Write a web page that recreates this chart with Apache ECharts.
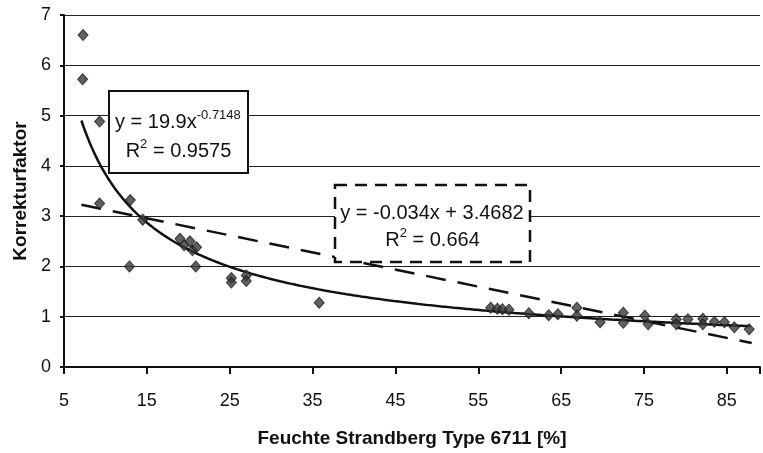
<!DOCTYPE html>
<html>
<head>
<meta charset="utf-8">
<script src="https://cdn.jsdelivr.net/npm/echarts@6/dist/echarts.min.js"></script>
<style>
  html, body { margin: 0; padding: 0; background: #fff; }
  #chart { width: 763px; height: 453px; }
</style>
</head>
<body>
<div id="chart"></div>
<script>
// Measured humidity (Strandberg Type 6711) and correction factor
const humidity = [7.3, 7.25, 9.3, 9.3, 13.0, 14.5, 12.9, 19.0, 19.5, 20.2, 20.5, 21.0, 20.9,
  25.2, 25.2, 27.0, 27.0, 35.8, 56.5, 57.3, 57.9, 58.7, 61.1, 63.5, 64.6, 66.9, 66.9, 69.7,
  72.5, 72.5, 75.1, 75.5, 78.9, 78.9, 80.3, 82.1, 82.1, 83.5, 84.7, 85.9, 87.7];
const factor = [6.6, 5.72, 4.88, 3.25, 3.32, 2.93, 2.0, 2.55, 2.42, 2.5, 2.32, 2.38, 2.0,
  1.77, 1.68, 1.82, 1.71, 1.28, 1.18, 1.16, 1.15, 1.14, 1.07, 1.03, 1.05, 1.18, 1.02, 0.89,
  1.08, 0.88, 1.02, 0.85, 0.95, 0.85, 0.95, 0.96, 0.85, 0.9, 0.89, 0.79, 0.75];

// Trend line coefficients
const powerA = 19.9, powerB = -0.7148, powerR2 = '0.9575';
const linSlope = -0.034, linIntercept = 3.4682, linR2 = '0.664';
const trendFrom = 7.1, trendTo = 88;

const xTicks = [5, 15, 25, 35, 45, 55, 65, 75, 85];

const points = humidity.map((x, i) => [x, factor[i]]);

const powerCurve = [];
for (let x = trendFrom; x <= trendTo + 1e-9; x += 0.25) {
  powerCurve.push([x, powerA * Math.pow(x, powerB)]);
}
const linearLine = [trendFrom, trendTo].map(x => [x, linSlope * x + linIntercept]);

const font = '"Liberation Sans", Arial, sans-serif';

// rich styles for equation text with superscripts
const eqRich = {
  a: { fontFamily: font, fontSize: 20, fill: '#111' },
  s: { fontFamily: font, fontSize: 13, fill: '#111', padding: [0, 0, 14, 0] }
};

const chart = echarts.init(document.getElementById('chart'), null, { renderer: 'canvas' });
chart.setOption({
  animation: false,
  backgroundColor: '#fff',
  grid: { left: 64, right: 1, top: 15, bottom: 85, containLabel: false },
  xAxis: {
    type: 'value', min: 5, max: 89, interval: 10,
    name: 'Feuchte Strandberg Type 6711 [%]',
    nameLocation: 'middle', nameGap: 62,
    nameTextStyle: { fontFamily: font, fontSize: 19, fontWeight: 'bold', color: '#111' },
    axisLine: { show: true, lineStyle: { color: '#111', width: 2 } },
    axisTick: { show: true, length: 7, lineStyle: { color: '#111', width: 2 } },
    axisLabel: {
      fontFamily: font, fontSize: 18, color: '#111', margin: 25,
      formatter: v => (xTicks.indexOf(v) >= 0 ? String(v) : '')
    },
    splitLine: { show: false }
  },
  yAxis: {
    type: 'value', min: 0, max: 7, interval: 1,
    name: 'Korrekturfaktor',
    nameLocation: 'middle', nameGap: 30,
    nameTextStyle: { fontFamily: font, fontSize: 19, fontWeight: 'bold', color: '#111' },
    axisLine: { show: true, lineStyle: { color: '#111', width: 2 } },
    axisTick: { show: true, length: 4, lineStyle: { color: '#111', width: 2 } },
    axisLabel: { fontFamily: font, fontSize: 18, color: '#111', margin: 13 },
    splitLine: { show: true, lineStyle: { color: '#222', width: 1 } }
  },
  series: [
    {
      type: 'line', data: powerCurve, showSymbol: false, silent: true,
      lineStyle: { color: '#111', width: 2.5 }, z: 3
    },
    {
      type: 'line', data: linearLine, showSymbol: false, silent: true,
      lineStyle: { color: '#111', width: 2.5, type: [20, 12] }, z: 3
    },
    {
      type: 'scatter', data: points, symbol: 'diamond', symbolSize: [10, 11],
      itemStyle: { color: '#3a3a3a', borderColor: '#1a1a1a', borderWidth: 1 }, z: 4
    }
  ],
  graphic: [
    {
      type: 'rect', z: 10,
      shape: { x: 109, y: 91, width: 139, height: 82 },
      style: { fill: '#fff', stroke: '#111', lineWidth: 2 }
    },
    {
      type: 'text', z: 11, x: 115, y: 122,
      style: {
        text: '{a|y = ' + powerA + 'x}{s|' + powerB + '}',
        verticalAlign: 'middle',
        rich: eqRich
      }
    },
    {
      type: 'text', z: 11, x: 178.5, y: 151,
      style: {
        text: '{a|R}{s|2}{a| = ' + powerR2 + '}',
        align: 'center', verticalAlign: 'middle',
        rich: eqRich
      }
    },
    {
      type: 'rect', z: 10,
      shape: { x: 335, y: 185, width: 195, height: 77 },
      style: { fill: '#fff', stroke: '#111', lineWidth: 2.5, lineDash: [12, 8] }
    },
    {
      type: 'text', z: 11, x: 432, y: 213,
      style: {
        text: 'y = ' + linSlope + 'x + ' + linIntercept,
        align: 'center', verticalAlign: 'middle',
        fontFamily: font, fontSize: 20, fill: '#111'
      }
    },
    {
      type: 'text', z: 11, x: 432.5, y: 240,
      style: {
        text: '{a|R}{s|2}{a| = ' + linR2 + '}',
        align: 'center', verticalAlign: 'middle',
        rich: eqRich
      }
    }
  ]
});
</script>
</body>
</html>
